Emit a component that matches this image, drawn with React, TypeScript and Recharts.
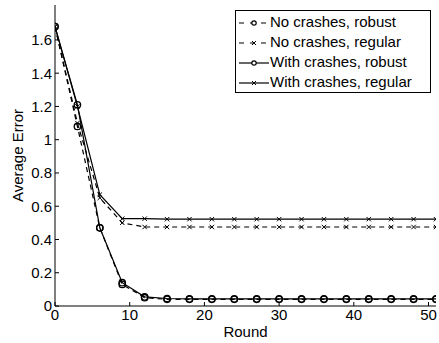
import React from 'react';
import { LineChart, Line, XAxis, YAxis } from 'recharts';

const ROUNDS = [0, 3, 6, 9, 12, 15, 18, 21, 24, 27, 30, 33, 36, 39, 42, 45, 48, 51];
const NO_CRASH_ROBUST = [1.68, 1.08, 0.47, 0.13, 0.05, 0.04, 0.04, 0.04, 0.04, 0.04, 0.04, 0.04, 0.04, 0.04, 0.04, 0.04, 0.04, 0.04];
const NO_CRASH_REGULAR = [1.68, 1.1, 0.65, 0.5, 0.475, 0.475, 0.475, 0.475, 0.475, 0.475, 0.475, 0.475, 0.475, 0.475, 0.475, 0.475, 0.475, 0.475];
const WITH_CRASH_ROBUST = [1.68, 1.21, 0.47, 0.14, 0.055, 0.045, 0.043, 0.043, 0.043, 0.043, 0.043, 0.043, 0.043, 0.043, 0.043, 0.043, 0.043, 0.043];
const WITH_CRASH_REGULAR = [1.68, 1.2, 0.67, 0.525, 0.525, 0.522, 0.522, 0.522, 0.522, 0.522, 0.522, 0.522, 0.522, 0.522, 0.522, 0.522, 0.522, 0.522];
const X_TICKS = [0, 10, 20, 30, 40, 50];
const Y_TICKS = [0, 0.2, 0.4, 0.6, 0.8, 1, 1.2, 1.4, 1.6];

const SERIES = [
  { key: 'ncRobust', name: 'No crashes, robust', dashed: true, marker: 'o' },
  { key: 'ncRegular', name: 'No crashes, regular', dashed: true, marker: 'x' },
  { key: 'wcRobust', name: 'With crashes, robust', dashed: false, marker: 'o' },
  { key: 'wcRegular', name: 'With crashes, regular', dashed: false, marker: 'x' },
];

const data = ROUNDS.map((r, i) => ({
  round: r,
  ncRobust: NO_CRASH_ROBUST[i],
  ncRegular: NO_CRASH_REGULAR[i],
  wcRobust: WITH_CRASH_ROBUST[i],
  wcRegular: WITH_CRASH_REGULAR[i],
}));

const FONT = '"Liberation Sans", Arial, sans-serif';

// matlab-ish markers
const CircleDot = (props: any) => {
  const { cx, cy } = props;
  if (cx == null || cy == null) return null;
  return <circle cx={cx} cy={cy} r={3.2} fill="none" stroke="#000" strokeWidth={1.3} />;
};

const CrossDot = (props: any) => {
  const { cx, cy } = props;
  if (cx == null || cy == null) return null;
  const s = 2.2;
  return (
    <g stroke="#000" strokeWidth={1}>
      <line x1={cx - s} y1={cy - s} x2={cx + s} y2={cy + s} />
      <line x1={cx - s} y1={cy + s} x2={cx + s} y2={cy - s} />
    </g>
  );
};

const LegendBox = () => (
  <div
    style={{
      position: 'absolute',
      left: 235,
      top: 10,
      width: 196,
      height: 83,
      boxSizing: 'border-box',
      border: '1px solid #000',
      background: '#fff',
      padding: '1px 0 0 2px',
      fontFamily: FONT,
      fontSize: 15,
      lineHeight: '20px',
      color: '#000',
    }}
  >
    {SERIES.map((s) => (
      <div key={s.key} style={{ display: 'flex', alignItems: 'center', whiteSpace: 'nowrap' }}>
        <svg width={32} height={20}>
          <line x1={1} y1={11} x2={31} y2={11} stroke="#000" strokeWidth={1.2} strokeDasharray={s.dashed ? '5 6' : undefined} />
          {s.marker === 'o' ? (
            <circle cx={16} cy={11} r={2.2} fill="#fff" stroke="#000" strokeWidth={1.2} />
          ) : (
            <g stroke="#000" strokeWidth={1}>
              <line x1={14} y1={9} x2={18} y2={13} />
              <line x1={14} y1={13} x2={18} y2={9} />
            </g>
          )}
        </svg>
        <span>{s.name}</span>
      </div>
    ))}
  </div>
);

const YLabel = (props: any) => {
  const vb = props.viewBox || {};
  const cy = (vb.y || 0) + (vb.height || 0) / 2;
  return (
    <text x={17} y={cy} transform={`rotate(-90, 17, ${cy})`} textAnchor="middle" dominantBaseline="central" fill="#000" fontSize={15} fontFamily={FONT}>
      Average Error
    </text>
  );
};

export default function App() {
  const tickStyle = { fill: '#000', fontSize: 15, fontFamily: FONT };
  return (
    <div style={{ position: 'absolute', left: 0, top: 0, width: 439, height: 343, background: '#fff' }}>
      <LineChart width={439} height={343} data={data} margin={{ top: 5, right: 3, bottom: 0, left: 0 }}>
        <XAxis
          dataKey="round"
          type="number"
          domain={[0, 51]}
          ticks={X_TICKS}
          allowDataOverflow
          height={37}
          tickSize={-4}
          tickMargin={7}
          tick={tickStyle}
          stroke="#000"
          label={{ value: 'Round', position: 'insideBottom', offset: 6, fill: '#000', fontSize: 15, fontFamily: FONT }}
        />
        <YAxis
          type="number"
          domain={[0, 1.81]}
          ticks={Y_TICKS}
          allowDataOverflow
          width={55}
          tickSize={-4}
          tickMargin={7}
          tick={tickStyle}
          stroke="#000"
          label={<YLabel />}
        />
        {SERIES.map((s) => (
          <Line
            key={s.key}
            dataKey={s.key}
            name={s.name}
            stroke="#000"
            strokeWidth={1.2}
            strokeDasharray={s.dashed ? '5 4' : undefined}
            dot={s.marker === 'o' ? <CircleDot /> : <CrossDot />}
            activeDot={false}
            type="linear"
            isAnimationActive={false}
          />
        ))}
      </LineChart>
      <LegendBox />
    </div>
  );
}
